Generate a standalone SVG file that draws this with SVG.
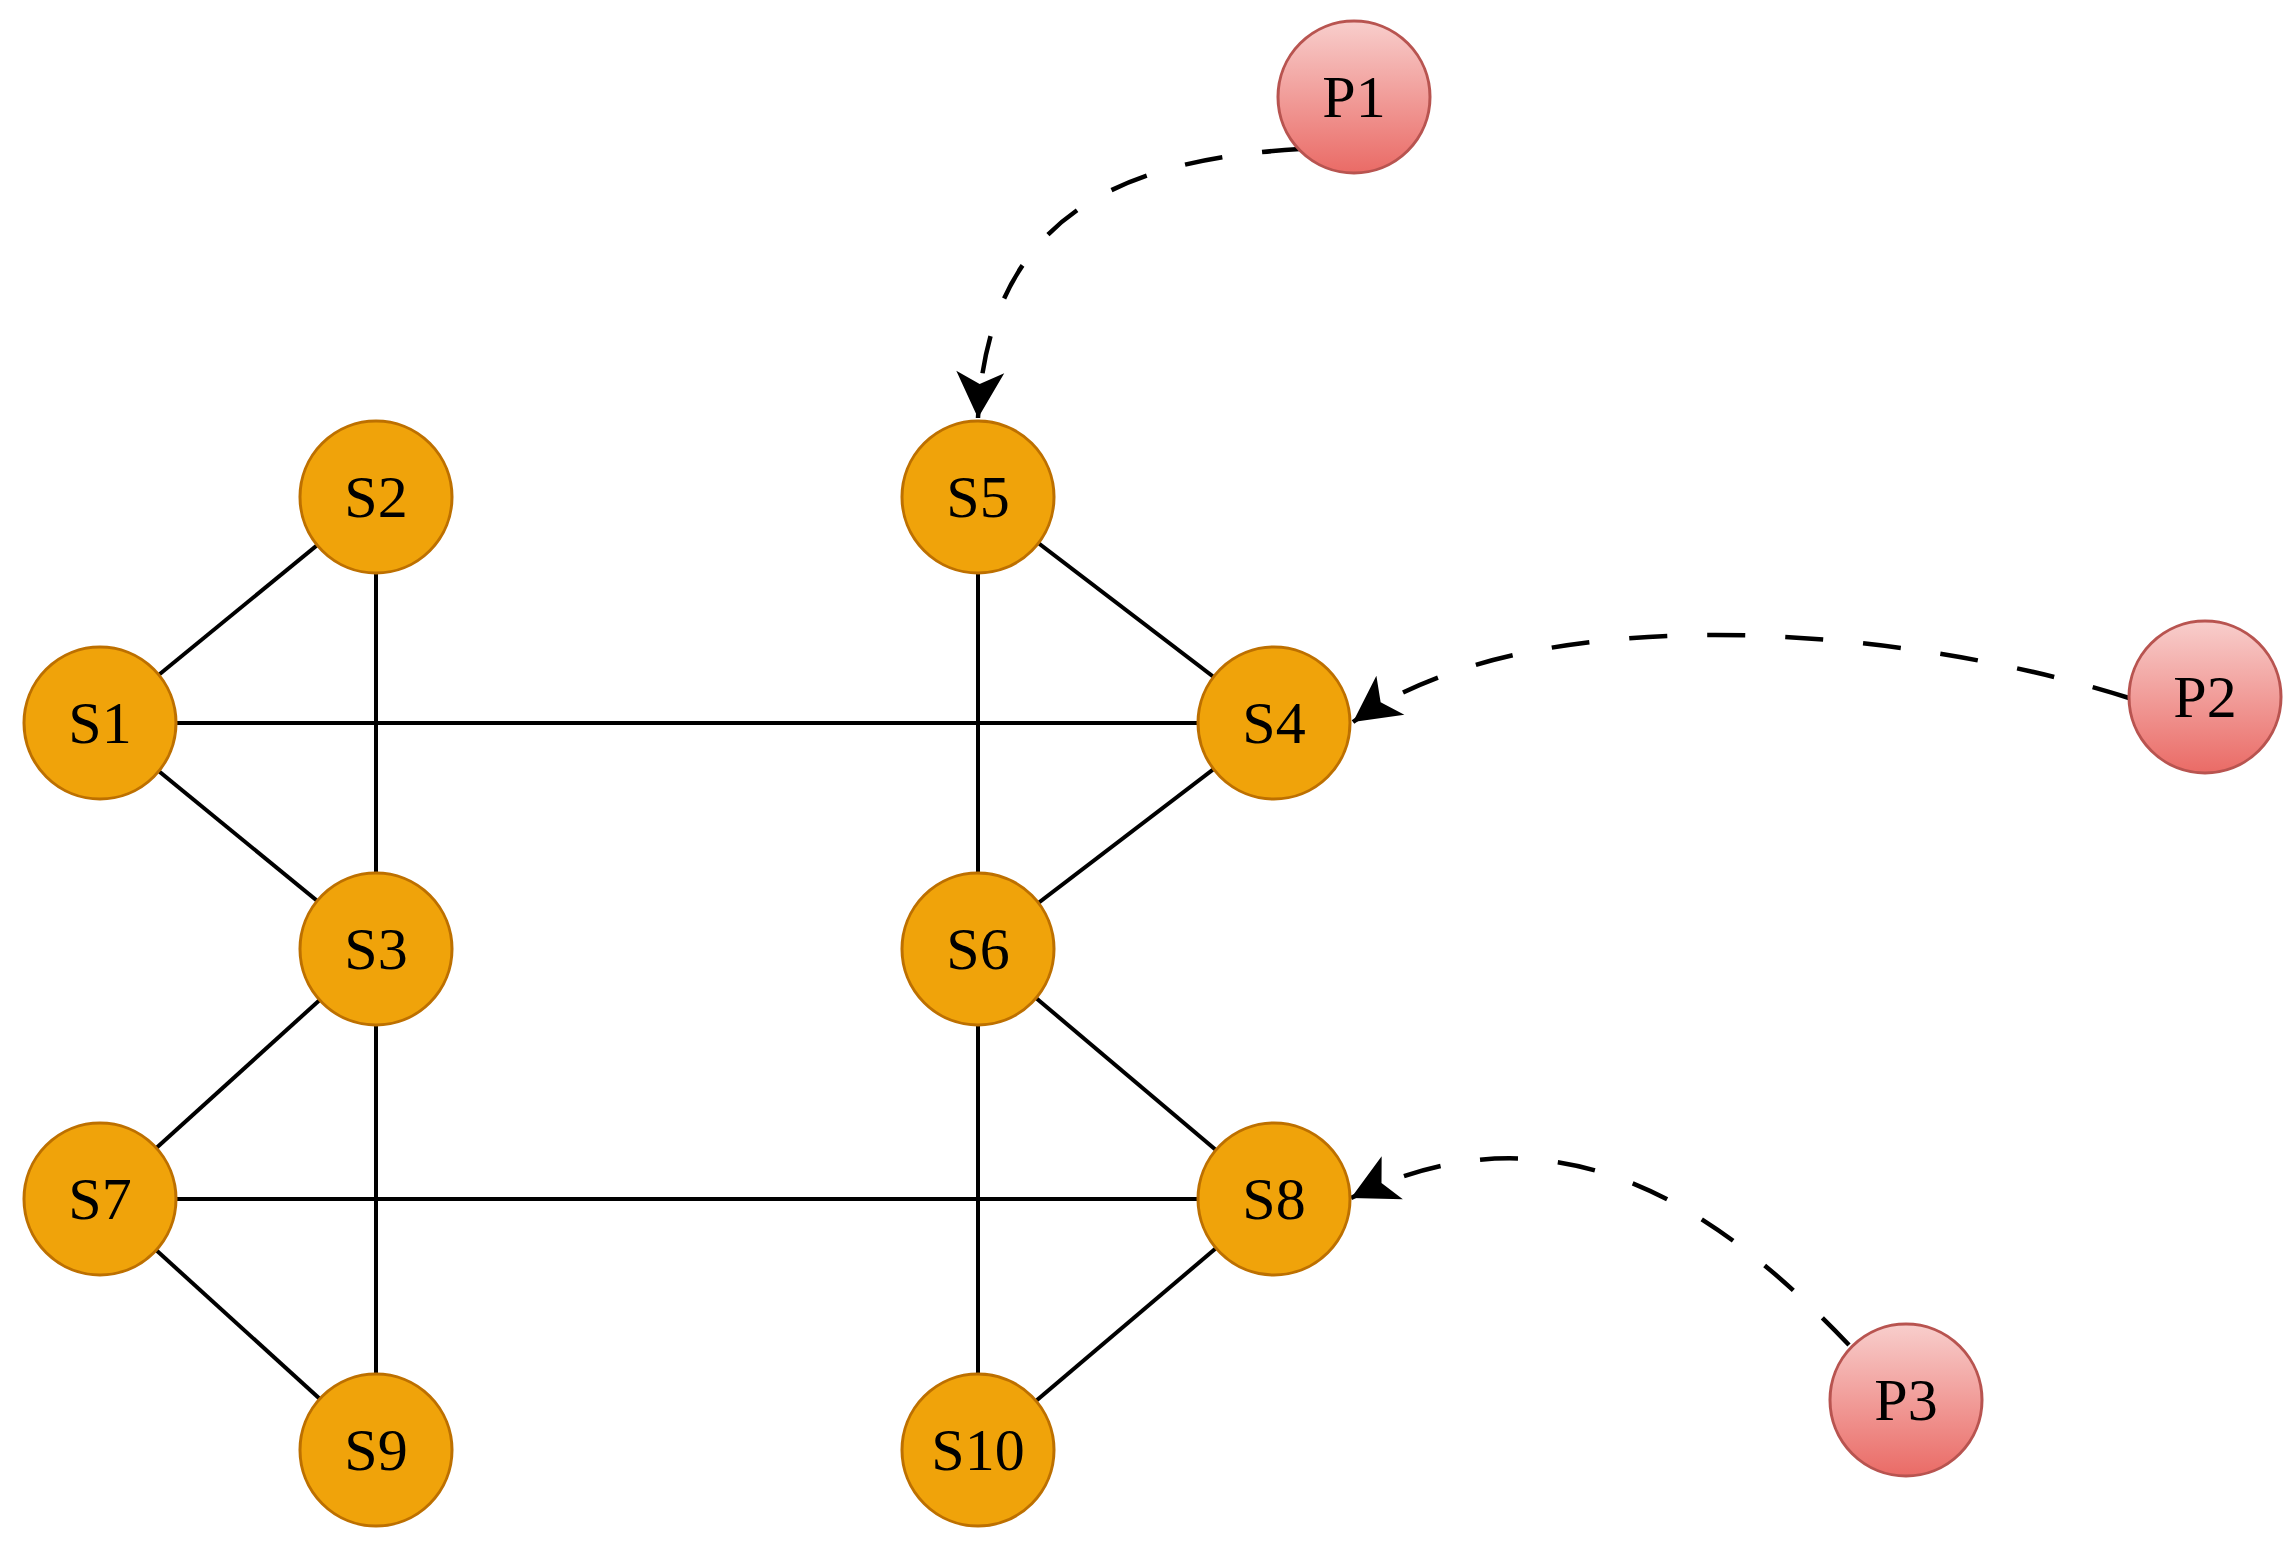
<svg xmlns="http://www.w3.org/2000/svg" width="2296" height="1551" viewBox="0 0 2296 1551">
<style>
.s circle{fill:#f0a30a;stroke:#bd7000;stroke-width:3}
.p circle{fill:url(#pg);stroke:#b85450;stroke-width:3}
text{font-family:"Liberation Serif","Times New Roman",serif;font-size:60px;fill:#000;text-anchor:middle}
.e line{stroke:#000;stroke-width:4}
.d{fill:none;stroke:#000;stroke-width:4.5;stroke-dasharray:38 40}
</style>
<defs>
<linearGradient id="pg" x1="0" y1="0" x2="0" y2="1">
<stop offset="0" stop-color="#f8cecc"/>
<stop offset="1" stop-color="#ea6b66"/>
</linearGradient>
<marker id="ar" markerUnits="userSpaceOnUse" markerWidth="70" markerHeight="70" viewBox="-2 -35 70 70" refX="46" refY="0" orient="auto">
<path d="M46,0 L0,-24 L12,0 L0,24 Z" fill="#000"/>
</marker>
</defs>
<rect width="2296" height="1551" fill="#fff"/>
<g id="connectors">
<g class="e">
<line x1="100" y1="723" x2="376" y2="497"/>
<line x1="100" y1="723" x2="1274" y2="723"/>
<line x1="100" y1="723" x2="376" y2="949"/>
<line x1="376" y1="497" x2="376" y2="949"/>
<line x1="978" y1="497" x2="1274" y2="723"/>
<line x1="978" y1="497" x2="978" y2="949"/>
<line x1="1274" y1="723" x2="978" y2="949"/>
<line x1="376" y1="949" x2="100" y2="1199"/>
<line x1="376" y1="949" x2="376" y2="1450"/>
<line x1="978" y1="949" x2="1274" y2="1199"/>
<line x1="978" y1="949" x2="978" y2="1450"/>
<line x1="100" y1="1199" x2="1274" y2="1199"/>
<line x1="100" y1="1199" x2="376" y2="1450"/>
<line x1="1274" y1="1199" x2="978" y2="1450"/>
</g>
<path class="d" d="M1300,149 C1120,160 988,215 978,418" marker-end="url(#ar)"/>
<path class="d" d="M2129,698 C1900,625 1530,595 1353,722" marker-end="url(#ar)"/>
<path class="d" d="M1849,1345 C1720,1210 1560,1095 1351,1198" marker-end="url(#ar)"/>
</g>
<g id="S1" class="s"><circle cx="100" cy="723" r="76"/><text x="100" y="743">S1</text></g>
<g id="S2" class="s"><circle cx="376" cy="497" r="76"/><text x="376" y="517">S2</text></g>
<g id="S3" class="s"><circle cx="376" cy="949" r="76"/><text x="376" y="969">S3</text></g>
<g id="S4" class="s"><circle cx="1274" cy="723" r="76"/><text x="1274" y="743">S4</text></g>
<g id="S5" class="s"><circle cx="978" cy="497" r="76"/><text x="978" y="517">S5</text></g>
<g id="S6" class="s"><circle cx="978" cy="949" r="76"/><text x="978" y="969">S6</text></g>
<g id="S7" class="s"><circle cx="100" cy="1199" r="76"/><text x="100" y="1219">S7</text></g>
<g id="S8" class="s"><circle cx="1274" cy="1199" r="76"/><text x="1274" y="1219">S8</text></g>
<g id="S9" class="s"><circle cx="376" cy="1450" r="76"/><text x="376" y="1470">S9</text></g>
<g id="S10" class="s"><circle cx="978" cy="1450" r="76"/><text x="978" y="1470">S10</text></g>
<g id="P1" class="p"><circle cx="1354" cy="97" r="76"/><text x="1354" y="117">P1</text></g>
<g id="P2" class="p"><circle cx="2205" cy="697" r="76"/><text x="2205" y="717">P2</text></g>
<g id="P3" class="p"><circle cx="1906" cy="1400" r="76"/><text x="1906" y="1420">P3</text></g>
</svg>
